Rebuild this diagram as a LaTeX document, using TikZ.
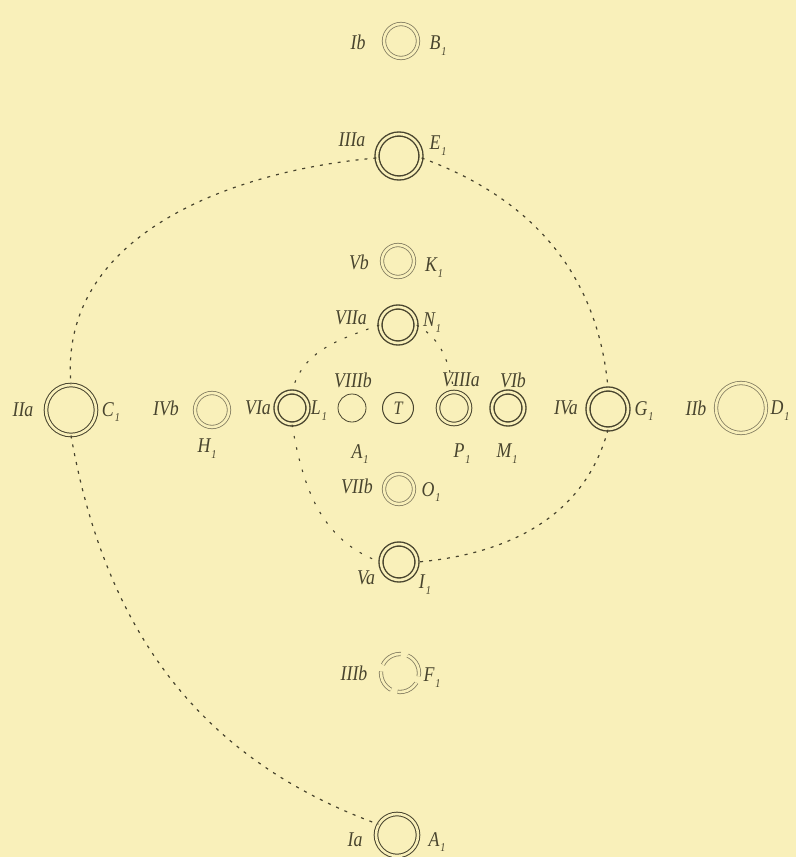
\documentclass[tikz,border=0pt]{standalone}
\usepackage{fontspec}
\newfontfamily\labfont[FakeStretch=0.85]{Liberation Serif}
\definecolor{bg}{RGB}{249,240,186}
\definecolor{ink}{RGB}{72,68,46}
\definecolor{faint}{RGB}{130,124,96}
\newcommand{\sone}[1]{#1\kern1pt\raisebox{-0.6ex}{\fontsize{12}{12}\selectfont 1}}
\tikzset{
  lab/.style={font=\labfont\itshape\fontsize{21}{21}\selectfont, text=ink, inner sep=0pt},
  ringA/.style={circle, draw=ink, double=bg, double distance=2.6pt, line width=1.4pt, inner sep=0pt},
  ringM/.style={circle, draw=ink, double=bg, double distance=2.6pt, line width=1.0pt, inner sep=0pt},
  ringB/.style={circle, draw=faint, double=bg, double distance=2.6pt, line width=0.8pt, inner sep=0pt},
  single/.style={circle, draw=ink, line width=0.8pt, inner sep=0pt},
  dashline/.style={draw=ink, line width=1.2pt, dash pattern=on 3pt off 6pt},
  dashthin/.style={draw=ink, line width=1.1pt, dash pattern=on 2.5pt off 9pt}
}
\begin{document}
\begin{tikzpicture}[x=1pt,y=1pt]
\fill[bg] (0,0) rectangle (796,-857);
\useasboundingbox (0,0) rectangle (796,-857);
% rings
\node[ringB, minimum size=34pt] (B1) at (401,-41) {};
\node[ringA, minimum size=44pt] (E1) at (399,-156) {};
\node[ringB, minimum size=32pt] (K1) at (398,-261) {};
\node[ringA, minimum size=36pt] (N1) at (398,-325) {};
\node[ringM, minimum size=50pt] (C1) at (71,-410) {};
\node[ringB, minimum size=34pt] (H1) at (212,-410) {};
\node[ringA, minimum size=32pt] (L1) at (292,-408) {};
\node[single, minimum size=28pt] (Q1) at (352,-408) {};
\node[single, line width=1pt, minimum size=31pt, lab, font=\labfont\itshape\fontsize{19}{19}\selectfont] (T) at (398,-408) {T};
\node[ringM, minimum size=32pt] (P1) at (454,-408) {};
\node[ringA, minimum size=32pt] (M1) at (508,-408) {};
\node[ringA, minimum size=40pt] (G1) at (608,-409) {};
\node[ringB, minimum size=50pt] (D1) at (741,-408) {};
\node[ringB, minimum size=30pt] (O1) at (399,-489) {};
\node[ringA, minimum size=36pt] (I1) at (399,-562) {};
\node[ringB, minimum size=38pt, dash pattern=on 22pt off 7pt] (F1) at (400,-673) {};
\node[ringM, minimum size=42pt] (A1) at (397,-835) {};
% labels
\node[lab] (lB1l) at (358,-42) {Ib};
\node[lab] (lB1r) at (438,-46) {\sone{B}};
\node[lab] (lE1l) at (352,-140) {IIIa};
\node[lab] (lE1r) at (438,-146) {\sone{E}};
\node[lab] (lK1l) at (359,-262) {Vb};
\node[lab] (lK1r) at (434,-268) {\sone{K}};
\node[lab] (lN1l) at (351,-318) {VIIa};
\node[lab] (lN1r) at (432,-323) {\sone{N}};
\node[lab] (lC1l) at (23,-410) {IIa};
\node[lab] (lC1r) at (111,-412) {\sone{C}};
\node[lab] (lH1l) at (166,-408) {IVb};
\node[lab] (lH1r) at (207,-449) {\sone{H}};
\node[lab] (lL1l) at (258,-408) {VIa};
\node[lab] (lL1r) at (319,-411) {\sone{L}};
\node[lab] (lQ1t) at (353,-380) {VIIIb};
\node[lab] (lQ1b) at (360,-454) {\sone{A}};
\node[lab] (lP1t) at (461,-380) {VIIIa};
\node[lab] (lP1b) at (462,-454) {\sone{P}};
\node[lab] (lM1t) at (513,-380) {VIb};
\node[lab] (lM1b) at (507,-454) {\sone{M}};
\node[lab] (lG1l) at (566,-408) {IVa};
\node[lab] (lG1r) at (644,-411) {\sone{G}};
\node[lab] (lD1l) at (696,-408) {IIb};
\node[lab] (lD1r) at (780,-411) {\sone{D}};
\node[lab] (lO1l) at (357,-486) {VIIb};
\node[lab] (lO1r) at (431,-492) {\sone{O}};
\node[lab] (lI1l) at (366,-578) {Va};
\node[lab] (lI1r) at (425,-585) {\sone{I}};
\node[lab] (lF1l) at (354,-673) {IIIb};
\node[lab] (lF1r) at (432,-678) {\sone{F}};
\node[lab] (lA1l) at (355,-840) {Ia};
\node[lab] (lA1r) at (437,-842) {\sone{A}};
% dashed connectors
\draw[dashline] (E1.185) to[out=185,in=95] (C1.north);
\draw[dashline] (E1.-5) to[out=-20,in=95] (G1.north);
\draw[dashline] (C1.south) to[out=-80,in=160] (A1.150);
\draw[dashline] (G1.south) to[out=-105,in=5] (I1.east);
\draw[dashthin] (N1.west) to[out=200,in=75] (L1.north);
\draw[dashthin] (N1.east) to[out=-30,in=100] (P1.north);
\draw[dashthin] (L1.south) to[out=-80,in=160] (I1.west);
\end{tikzpicture}
\end{document}
